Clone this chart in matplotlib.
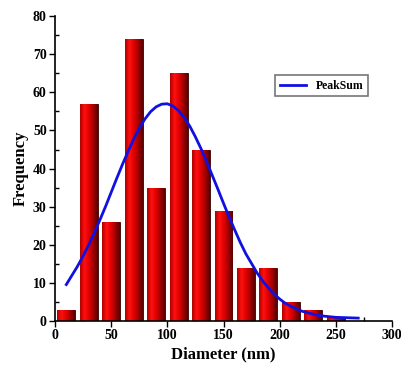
import numpy as np
import matplotlib
matplotlib.use("Agg")
import matplotlib.pyplot as plt
from matplotlib.colors import LinearSegmentedColormap

plt.rcParams['font.family'] = ['Liberation Serif', 'DejaVu Serif']
plt.rcParams['font.weight'] = 'bold'

# histogram of particle diameters
centres = [10, 30, 50, 70, 90, 110, 130, 150, 170, 190, 210, 230, 250]
counts = [3, 57, 26, 74, 35, 65, 45, 29, 14, 14, 5, 3, 1]

# fitted PeakSum curve
fit_x = [10, 15, 20, 25, 30, 35, 40, 45, 50, 55, 60, 65, 70, 75, 80, 85,
         90, 95, 100, 105, 110, 115, 120, 125, 130, 135, 140, 145, 150,
         155, 160, 165, 170, 175, 180, 185, 190, 195, 200, 205, 210, 215,
         220, 225, 230, 235, 240, 245, 250, 255, 260, 265, 270]
fit_y = [9.6, 12.0, 14.4, 17.1, 20.0, 23.2, 26.6, 30.1, 33.8, 37.5, 41.1,
         44.5, 47.7, 50.6, 53.0, 54.9, 56.2, 56.9, 57.0, 56.4, 55.2, 53.4,
         51.1, 48.3, 45.2, 41.8, 38.2, 34.6, 30.9, 27.3, 23.9, 20.6, 17.6,
         15.1, 12.6, 10.5, 8.7, 7.1, 5.8, 4.7, 3.9, 3.2, 2.6, 2.2, 1.8, 1.5,
         1.3, 1.15, 1.0, 0.95, 0.9, 0.85, 0.8]

fig = plt.figure(figsize=(4.02, 3.73), dpi=100)
ax = fig.add_axes([0.137, 0.139, 0.838, 0.818])

cmap = LinearSegmentedColormap.from_list('barred', ['#b00000', '#ff1010', '#e00000', '#a00000', '#5a0000'])
grad = np.linspace(0, 1, 64).reshape(1, -1)
bw = 16
bars = ax.bar(centres, counts, width=bw, color='#dd0000', edgecolor='#300000', linewidth=0.6, zorder=2)
for b in bars:
    x0 = b.get_x()
    h = b.get_height()
    im = ax.imshow(grad, extent=[x0, x0 + bw, 0, h], aspect='auto', cmap=cmap, zorder=2.5)
    im.set_clip_path(b)

ax.plot(fit_x, fit_y, color='#1010e0', linewidth=2.0, label='PeakSum', zorder=3)

ax.set_xlim(0, 300)
ax.set_ylim(0, 80)
ax.set_xticks(np.arange(0, 301, 50))
ax.set_yticks(np.arange(0, 81, 10))
ax.set_xticks(np.arange(25, 300, 50), minor=True)
ax.set_yticks(np.arange(5, 80, 10), minor=True)
ax.tick_params(which='major', direction='out', length=4, width=1, labelsize=10, pad=2)
ax.tick_params(which='minor', direction='in', length=3, width=1)
for lab in ax.get_xticklabels() + ax.get_yticklabels():
    lab.set_fontweight('bold')

for side in ['top', 'right']:
    ax.spines[side].set_visible(False)
for side in ['left', 'bottom']:
    ax.spines[side].set_linewidth(1.2)

ax.set_xlabel('Diameter (nm)', fontsize=12, fontweight='bold', labelpad=3)
ax.set_ylabel('Frequency', fontsize=12, fontweight='bold', labelpad=3)

leg = ax.legend(loc='upper left', bbox_to_anchor=(0.654, 0.807), borderaxespad=0,
                handlelength=2.2, borderpad=0.4, fancybox=False, framealpha=1,
                edgecolor='#777777', prop={'weight': 'bold', 'size': 8.5})
leg.get_frame().set_linewidth(1.2)

fig.savefig('out.png', dpi=100)
